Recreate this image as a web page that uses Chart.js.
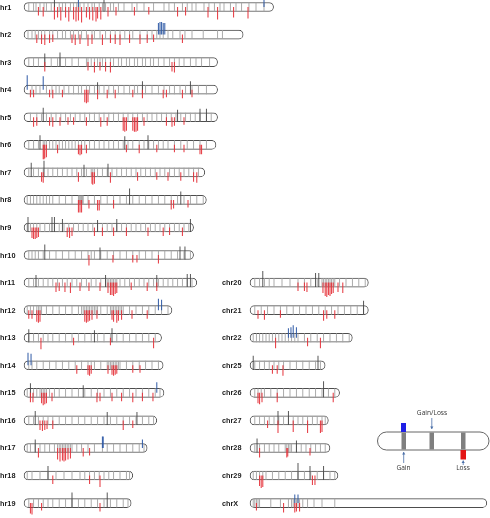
<!DOCTYPE html>
<html><head><meta charset="utf-8">
<script src="https://cdn.jsdelivr.net/npm/chart.js@4.4.0/dist/chart.umd.min.js"></script>
<style>
html,body{margin:0;padding:0;background:#fff;}
#wrap{position:relative;width:490px;height:518px;overflow:hidden;background:#fff;}
canvas{position:absolute;left:0;top:0;}
</style></head><body>
<div id="wrap"><canvas id="bodies" width="490" height="518"></canvas><canvas id="marks" width="490" height="518"></canvas></div>
<script>
// ---- data (positions in Mb) ----
const chromNames = ['chr1','chr2','chr3','chr4','chr5','chr6','chr7','chr8','chr9','chr10','chr11','chr12','chr13','chr14','chr15','chr16','chr17','chr18','chr19',
  'chr20','chr21','chr22','chr25','chr26','chr27','chr28','chr29','chrX'];
const chromLengths = [156,137,121,121,121,120,113,114,106,106,108,92.5,86,87,87.5,83,77,68,67, 74,74,64,47,56,49,50,55,148];

// probe / CNV region positions (grey ticks inside the chromosome)
const grayMarks = [
 [3,6,7.5,10,12.5,14,17,19,22,24,26,29,31,33,35,37.5,40,42.5,44,47,49,51,54,56,59,62.5,67.5,70.6,75,81,87.5,90.6,94,99,102,105,107.5,112.5,115.6,119,122.5,125,129,132.5,136,140.6,145,150],
 [2.5,5,7,9,11,13,16,18,21,24,26,29,31,34,36,39,42.5,44,47.5,51,54,57,60,63,66,68,72.5,77,80,83,85,87,90,93,97.5,100.6,105,112,121,124],
 [3,6,9,13,17,21,22.5,26,30,34,39,40,42,44,46,47.5,49,51,54,56,59,61,64,66,69,71,74,76,79,81,84,87.5,91,94,97,100,104,107.5,111,116],
 [5,7.5,10,14,17.5,20,22,25,28,31,34,36,39,41,44,47,50,53,56,59,62.5,66,69,71,74,76,80,84,87.5,91,94,97.5,101,105,109,114],
 [4,8,11,14,17,20,23,26,29,32,35,38,41,44,47,50,53,56,59,62,65,68,71,74,77,80,83,86,89,92,95,98,101,104,107,110,114,117],
 [3,6,9,12,13,14,16,18,20,22,24,26,28,30,32,34,36,38,41,44,47,50,53,56,59,62,65,68,72,75,78,81,84,87,90,94,98,102,106,110,114],
 [3,6,9,12,15,18,21,24,27,30,33,36,39,42,43,44,46,49,52,55,58,61,64,67,70,73,76,79,82,85,88,91,94,97,100,103,106,109],
 [2,4,6,8,10,12,14,16,18,22,26,30,34,34.5,35,35.5,36,36.5,37,40,44,48,52,56,60,64,68,72,76,80,84,88,92,96,100,104,108,112],
 [2,4,6,8,10,13,16,19,22,25,28,31,34,37,40,43,46,49,52,55,58,61,64,67,70,73,76,79,82,85,88,91,94,97,100,103],
 [3,5,7,9,12,16,20,24,28,32,36,40,42,44,48,52,56,60,64,68,72,76,80,84,88,92,96,100,104],
 [3,6,9,12,15,18,21,24,27,30,33,36,39,42,45,48,51,52,53,54,55,56,57,58,60,63,66,69,72,75,78,81,84,87,90,93,96,99,102,105],
 [2,4,6,8,9,10,11,14,18,22,26,30,34,36,37,38,39,40,41,42,43,44,45,46,48,52,54,55,56,57,58,59,60,61,62,66,70,74,78,82,86,90],
 [3,6,9,12,15,18,22,26,30,34,38,42,46,50,54,58,62,66,70,74,78,82],
 [3,5,8,12,16,20,24,28,32,36,40,42,44,48,52,53,54,55,56,57,58,59,60,64,68,72,76,80,84],
 [2,4,6,8,10,11,12,13,14,16,19,22,26,30,34,38,42,46,50,54,58,62,66,70,74,78,82,85],
 [3,6,9,12,15,18,22,26,30,34,38,42,46,50,54,58,62,66,70,74,78,81],
 [2,4,7,10,13,16,19,21,22,23,24,25,26,27,28,29,30,33,36,40,44,49,52,56,60,64,68,72,75],
 [2,5,10,15,20,25,30,35,38,41,44,47,50,53,56,60,64,66],
 [3,6,9,12,15,18,22,26,30,34,38,42,46,50,54,58,62,65],
 [3,6,9,12,15,20,25,30,34,38,42,45,46,47,48,49,50,51,52,53,56,60,64,68,72],
 [3,7,11,15,19,23,27,31,35,39,43,47,51,55,59,63,67,71],
 [2,4,6,8,10,12,14,16,18,20,22,24,26,28,30,34,38,42,46,50,54,58,62],
 [3,6,9,12,15,18,21,25,29,33,37,41,44],
 [3,5,7,9,13,17,21,25,29,33,37,41,45,49,53],
 [3,6,9,12,15,18,21,24,27,30,33,36,39,42,45,47],
 [3,6,9,12,15,18,22,23,24,25,26,29,32,35,38,41,44,47],
 [2,4,6,8,10,14,18,22,26,30,34,38,42,46,50,53],
 [2,3,4,5,6,13,19,24,26,27,28,29,30,31,33,36,40,45,53]
];

// loss (red, below chromosome): [position Mb, bar length]
const lossMarks = [
 [[9,4],[12,5],[19,8],[21,6],[23,9],[26,6],[28,10],[31,8],[32.5,10],[34,9],[36,11],[39,6],[41,8],[43,9],[45,10],[46,7],[48,8],[52.5,5],[57.5,4],[69,4],[78,3],[96,5],[101,4],[115,6],[121,8],[131,6],[140,7]],
 [[8,4],[11,5],[13,6],[16,4],[18,3],[30,4],[32,6],[35,5],[40,7],[42.5,5],[49,6],[54,4],[57,5],[60,6],[66,4],[72.5,5],[77,4],[81,3],[99,4]],
 [[13,5],[40,4],[44,6],[47.5,4],[51,5],[54,6],[92.5,5],[94,6]],
 [[4,3],[6,3],[16,3],[18,4],[24,3],[38,8],[39,9],[40,8],[46,5],[52,4],[57,4],[68,3],[74,4],[87,4],[89,3],[99,4],[105,3]],
 [[6,5],[8,4],[16,4],[18,5],[22.5,4],[27.5,3],[31,3],[39,4],[48,5],[52,4],[62,9],[63,10],[64,9],[68,9],[69,10],[70,10],[71,9],[75,4],[89,4],[92.5,5],[94,4],[100,3]],
 [[12,10],[12.5,10],[13,9],[14,8],[21,4],[34,5],[35,6],[36,5],[39,4],[64,3],[72,4],[83,3],[94,3],[100,3],[110,5],[111,5]],
 [[11,5],[12,6],[34,5],[42.5,7],[43,8],[44,7],[54,6],[71,4],[83,3],[90,4],[98,4],[106,5],[108,6]],
 [[34,8],[35,8],[36,8],[40.6,4],[46,6],[47,6],[56,4],[92,5],[93.5,4],[102.5,3]],
 [[5,6],[6,7],[7,7],[8,6],[9,5],[27,5],[28.5,6],[30,4],[44,4],[49,4],[56,4],[64,4],[77.5,4],[87,4],[91,3],[99,4]],
 [[40.6,6],[55.6,3],[68,3],[70.6,3],[84,4]],
 [[20,5],[22,4],[25.6,5],[29,6],[35,4],[40.6,4],[47.5,4],[52.5,6],[54,8],[55,8],[56,9],[57,7],[58,6],[67,3],[77,4],[83,4]],
 [[3,4],[5,4],[8,7],[9,8],[10,7],[38,7],[39,8],[40,7],[41,6],[42.5,5],[45.6,4],[55,5],[56,7],[58,8],[59,6],[61,5],[67.5,4],[77,4]],
 [[10.6,7],[31,3],[54,3],[81,6]],
 [[33,4],[40,5],[41,6],[42,4],[52.5,4],[55,5],[56,6],[57,5],[58,4],[68,3],[72.5,3]],
 [[4,5],[5.6,5],[11,6],[12,8],[13,7],[14,6],[17.5,4],[45.6,5],[47.5,4],[55,4],[61,4],[68,5],[74,4],[80.6,4]],
 [[10,5],[11.5,6],[13,5],[14.4,4],[18,4],[62,5],[68,3]],
 [[9,5],[21,7],[22.5,9],[24,8],[25,9],[26,8],[27.5,7],[29,6],[37,4],[41,3]],
 [[18,4],[41,4],[47.5,7]],
 [[4,6],[5,7],[11,3],[47.5,4]],
 [[30,4],[34,4],[35.6,5],[45.6,6],[47,9],[48,10],[49,8],[50,9],[51,7],[52,6],[55,5],[58,6]],
 [[5,4],[9,5],[19,3],[46,6],[48,4],[53,4]],
 [[16,6],[36,4],[44,6]],
 [[14,4],[17,4],[20.6,6]],
 [[5,6],[6,7],[7.5,5],[17,5],[52,5]],
 [[11,3],[17.5,8],[27,7],[36,8],[44,8],[45,7]],
 [[6,5],[23,5],[23.6,4],[37.5,3]],
 [[6,6],[7,8],[8,7],[39,5],[40.6,5]],
 [[4,3],[21,5],[28,5],[29,4],[31,4]]
];

// gain (blue, above chromosome): [position Mb, bar length]
const gainMarks = [
 [[34,3],[150,3]],
 [[84,7],[85,8],[86,8],[87,7],[88,7]],
 [], [[2,10],[12,9]], [], [], [], [], [], [], [],
 [[84,7],[86,6]],
 [], [[2.5,8],[4.4,7]], [[83,6]], [],
 [[49,7],[49.5,7],[74,4]],
 [], [], [], [],
 [[24,5],[25.6,6],[27,8],[29,6]],
 [], [], [], [], [],
 [[28,4],[30,4]]
];

// darker ticks standing out above the chromosome: [position Mb, height]
const tallMarks = [
 [[19,3],[50,3]], [], [[13,4],[22.5,5]], [[46,3],[74,4],[104,4]], [[12,5],[96,3],[110,4],[114,4]],
 [[10,5],[63,4],[77.5,5]], [[4.5,5],[12.5,7],[37.5,3],[52.5,4]], [[66,7],[98,4]],
 [[2.5,6],[17.5,6],[19,6],[24,4],[46,3],[58,4],[104,4]], [[13,6],[47.5,3],[97.5,4],[100.6,4]],
 [[7.5,3],[51,3],[83,3],[102,4],[104,4]], [], [[3,4],[44,3],[55,5]], [], [[4,5],[37,3]],
 [[7,5],[52,4],[70.6,4]], [[7,4]], [[15,5]], [[30,6],[52,6]],
 [[8,7],[41,5],[43,5]], [[71,5]], [], [[2,5],[42.5,5]], [[46,7]], [[17.5,5],[24,5]], [[4.4,5],[29,3]],
 [[30,8],[37.5,5],[46,5]], []
];

// ---- layout ----
const W = 490, H = 518;
const LEFT_COUNT = 19;
const PX_PER_MB = 1.6;
const XMIN = -24 / PX_PER_MB, XMAX = XMIN + W / PX_PER_MB;
const COL2 = (250 - 24) / PX_PER_MB;
const ROW_PX = 27.56;
const YMIN = -7 / ROW_PX, YMAX = YMIN + H / ROW_PX;
const U = (YMAX - YMIN) / H;  // y units per pixel
const HALF = 4.5 * U;
const rowOf = i => i < LEFT_COUNT ? i : i - LEFT_COUNT + 10;
const colOffset = i => i < LEFT_COUNT ? 0 : COL2;

const scales = {
  x: {type:'linear', min:XMIN, max:XMAX, display:false, offset:false, bounds:'data'},
  y: {type:'linear', min:YMIN, max:YMAX, reverse:true, display:false, offset:false, bounds:'data'}
};
const common = {responsive:false, animation:false, events:[], devicePixelRatio:1,
  layout:{padding:0}, plugins:{legend:{display:false}, tooltip:{enabled:false}}};

// chromosome bodies
new Chart(document.getElementById('bodies'), {
  type:'bar',
  data:{datasets:[{
    data: chromNames.map((n,i)=>({x:[colOffset(i), colOffset(i)+chromLengths[i]], y: rowOf(i)})),
    backgroundColor:'#ffffff', borderColor:'#4d4d4d', borderWidth:1,
    borderRadius:5, borderSkipped:false, barThickness:9, grouped:false
  }]},
  options:Object.assign({}, common, {indexAxis:'y', scales: JSON.parse(JSON.stringify(scales))})
});

// marks
const grayData = [], lossData = [], gainData = [], tallData = [];
chromNames.forEach((n,i)=>{
  const r = rowOf(i), o = colOffset(i);
  grayMarks[i].forEach(p => grayData.push({x:o+p, y:[r-HALF, r+HALF]}));
  lossMarks[i].forEach(([p,d]) => lossData.push({x:o+p, y:[r, r+HALF+d*U]}));
  gainMarks[i].forEach(([p,h]) => gainData.push({x:o+p, y:[r-HALF-h*U, r]}));
  tallMarks[i].forEach(([p,h]) => tallData.push({x:o+p, y:[r-HALF-h*U, r+HALF]}));
});

function arrow(ctx, x, y0, y1, color){
  ctx.strokeStyle = color; ctx.fillStyle = color; ctx.lineWidth = 0.8;
  ctx.beginPath(); ctx.moveTo(x, y0); ctx.lineTo(x, y1); ctx.stroke();
  const d = y1 > y0 ? 1 : -1;
  ctx.beginPath(); ctx.moveTo(x, y1); ctx.lineTo(x-1.6, y1-2.6*d); ctx.lineTo(x+1.6, y1-2.6*d); ctx.closePath(); ctx.fill();
}

const textPlugin = {
  id:'texts',
  afterDraw(chart){
    const {ctx, scales:{x, y}} = chart;
    ctx.save();
    ctx.font = 'bold 7.3px "Liberation Sans", Arial, sans-serif';
    ctx.fillStyle = '#222'; ctx.textBaseline = 'middle'; ctx.textAlign = 'left';
    chromNames.forEach((n,i)=>{
      const px = x.getPixelForValue(colOffset(i)) - 28;
      ctx.fillText(n, px, y.getPixelForValue(rowOf(i)) + 0.5);
    });
    // legend schematic
    const lx0 = 377.5, lx1 = 489, ly0 = 432, ly1 = 450, r = 9;
    ctx.beginPath();
    ctx.moveTo(lx0 + r, ly0); ctx.lineTo(lx1 - r, ly0); ctx.arc(lx1 - r, ly0 + r, r, -Math.PI/2, Math.PI/2);
    ctx.lineTo(lx0 + r, ly1); ctx.arc(lx0 + r, ly0 + r, r, Math.PI/2, Math.PI*1.5); ctx.closePath();
    ctx.fillStyle = '#fff'; ctx.fill(); ctx.strokeStyle = '#666'; ctx.lineWidth = 1; ctx.stroke();
    ctx.fillStyle = '#7f7f7f';
    [401.5, 429.5, 461].forEach(bx => ctx.fillRect(bx, ly0 + 0.5, 4.5, ly1 - ly0 - 1));
    ctx.fillStyle = '#1f1fe6'; ctx.fillRect(401, 423, 5, 9);
    ctx.fillStyle = '#e31414'; ctx.fillRect(460.5, 450, 5.5, 9.5);
    arrow(ctx, 431.8, 418, 429, '#4a6fa8');
    arrow(ctx, 403.7, 463, 452, '#4a6fa8');
    arrow(ctx, 463.2, 465, 460.5, '#4a6fa8');
    ctx.fillStyle = '#333'; ctx.textAlign = 'center';
    ctx.font = '6.6px "Open Sans", "Noto Sans", sans-serif';
    ctx.fillText('Gain/Loss', 432, 413.5);
    ctx.fillText('Gain', 403.5, 468.5);
    ctx.fillText('Loss', 463, 468.5);
    ctx.restore();
  }
};

const barCommon = {grouped:false, inflateAmount:0, borderWidth:0};
new Chart(document.getElementById('marks'), {
  type:'bar',
  data:{datasets:[
    Object.assign({label:'Gain', data:gainData, backgroundColor:'#2f5aa6', barThickness:1}, barCommon),
    Object.assign({label:'Loss', data:lossData, backgroundColor:'#e5323a', barThickness:1}, barCommon),
    Object.assign({label:'Strong', data:tallData, backgroundColor:'#454545', barThickness:0.9}, barCommon),
    Object.assign({label:'Region', data:grayData, backgroundColor:'#a2a2a2', barThickness:0.9}, barCommon)
  ]},
  options:Object.assign({}, common, {indexAxis:'x', scales: JSON.parse(JSON.stringify(scales))}),
  plugins:[textPlugin]
});
</script>
</body></html>
